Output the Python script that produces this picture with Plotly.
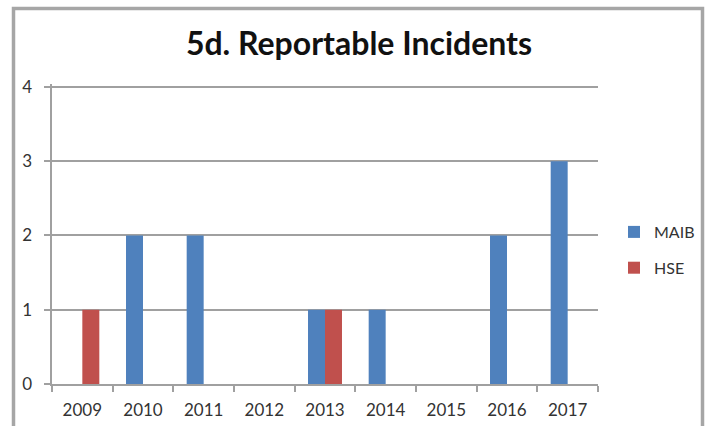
import plotly.graph_objects as go

# Reportable incidents per year, by investigating body
years = ["2009", "2010", "2011", "2012", "2013", "2014", "2015", "2016", "2017"]
maib = [0, 2, 2, 0, 1, 1, 0, 2, 3]
hse = [1, 0, 0, 0, 1, 0, 0, 0, 0]
y_ticks = [0, 1, 2, 3, 4]

BLUE = "#4F81BD"
RED = "#C0504D"
GRID = "#A0A0A0"
FONT = "Lato"

fig = go.Figure()
fig.add_trace(go.Bar(name="MAIB", x=years, y=maib, legendgroup="maib",
                     marker=dict(color=BLUE, line=dict(width=0))))
fig.add_trace(go.Bar(name="HSE", x=years, y=hse, legendgroup="hse",
                     marker=dict(color=RED, line=dict(width=0))))

W, H = 710, 426
YTOP = 4.04
L, R, T, B = 52, 112, 84, 42
pw, ph = W - L - R, H - T - B


def px(x):
    return (x - L) / pw


def py(y):
    return (H - B - y) / ph


fig.update_layout(
    width=W,
    height=H,
    margin=dict(l=L, r=R, t=T, b=B, pad=0, autoexpand=False),
    paper_bgcolor="white",
    plot_bgcolor="white",
    barmode="group",
    bargap=0.44,
    bargroupgap=0,
    font=dict(family=FONT, size=17, color="#333333"),
    title=dict(
        text="<b>5d. Reportable Incidents</b>",
        x=px(359), xref="paper", xanchor="center",
        y=1 - 44 / H, yref="container", yanchor="middle",
        font=dict(family=FONT, size=32, color="#111111"),
    ),
    legend=dict(
        x=614 / W, y=1 - 215 / H, xref="container", yref="container",
        xanchor="left", yanchor="top",
        font=dict(family=FONT, size=16, color="#333333"),
        itemwidth=30, traceorder="grouped", tracegroupgap=12,
        bgcolor="rgba(0,0,0,0)",
    ),
    xaxis=dict(
        type="category",
        automargin=False,
        showgrid=False,
        showline=True, linecolor=GRID, linewidth=1.5,
        ticks="outside", tickson="boundaries", ticklen=6, tickcolor=GRID, tickwidth=1.5,
        ticklabelstandoff=10,
        tickfont=dict(family=FONT, size=17, color="#333333"),
        fixedrange=True,
    ),
    yaxis=dict(
        automargin=False,
        range=[0, YTOP], tickvals=y_ticks,
        ticktext=[f"{v}  " for v in y_ticks],
        showgrid=True, gridcolor=GRID, gridwidth=1.5,
        showline=True, linecolor=GRID, linewidth=1.5,
        ticks="outside", ticklen=6, tickcolor=GRID, tickwidth=1.5,
        tickfont=dict(family=FONT, size=17, color="#333333"),
        zeroline=False,
        fixedrange=True,
    ),
    shapes=[
        dict(
            type="rect", xref="paper", yref="paper",
            x0=px(13.5), x1=px(702.5), y0=py(8.5), y1=py(440),
            line=dict(color="#A6A6A6", width=3.5), fillcolor="rgba(0,0,0,0)",
            layer="above",
        )
    ],
)

fig.write_html("out.html")
